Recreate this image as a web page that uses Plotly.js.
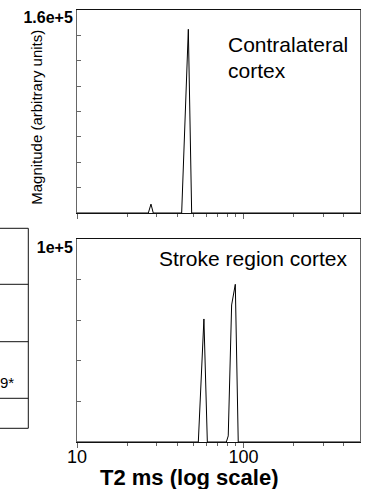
<!DOCTYPE html>
<html>
<head>
<meta charset="utf-8">
<script src="https://cdn.plot.ly/plotly-3.0.1.min.js"></script>
<style>html,body{margin:0;padding:0;background:#fff;}#chart{width:368px;height:489px;}</style>
</head>
<body>
<div id="chart"></div>
<script>
// ---- data ----
const contraT2 = [10, 26.8, 27.8, 28.7, 42.5, 46.6, 48.8, 500];
const contraMag = [0, 0, 7000, 0, 0, 144800, 0, 0];
const strokeT2 = [10, 53.5, 57.8, 60.6, 78.8, 80.9, 84.8, 89.2, 92.9, 500];
const strokeMag = [0, 0, 60700, 0, 0, 3000, 67600, 77800, 0, 0];
const xTickVals = [10, 100];
const xTickText = ['10', '100'];
const xMinorVals = [20, 30, 40, 50, 60, 70, 80, 90, 200, 300, 400];
const topYTickVals = [0, 20000, 40000, 60000, 80000, 100000, 120000, 140000, 160000];
const topYTickText = ['', '', '', '', '', '', '', '', '1.6e+5'];
const botYTickVals = [0, 20000, 40000, 60000, 80000, 100000];
const botYTickText = ['', '', '', '', '', '1e+5'];
const panelLabels = ['Contralateral', 'cortex', 'Stroke region cortex'];
const xTitle = 'T2 ms (log scale)';
const yTitle = 'Magnitude (arbitrary units)';

// ---- layout helpers ----
const W = 368, H = 489, L = 77, R = 8, T = 10, B = 47;
const PW = W - L - R, PH = H - T - B;
const fx = px => (px - L) / PW;
const fy = py => (H - B - py) / PH;
const FONT = 'Liberation Sans, Arial, Helvetica, sans-serif';
const GRAY = '#666';

const xBase = {
  type: 'log', range: [1, Math.log10(500)], showgrid: false, zeroline: false,
  showline: true, mirror: true, linecolor: '#111', linewidth: 1,
  ticks: 'outside', ticklen: 5, tickcolor: GRAY, tickwidth: 1,
  tickvals: xTickVals,
  minor: { tickvals: xMinorVals, ticks: 'outside', ticklen: 3, tickcolor: GRAY, showgrid: false },
  tickfont: { family: FONT, size: 18, color: '#000' },
  ticklabelstandoff: -7
};
const yBase = {
  showgrid: false, zeroline: false, showline: true, mirror: true,
  linecolor: GRAY, linewidth: 1, ticks: 'inside', ticklen: 4, tickcolor: GRAY,
  tickfont: { family: FONT, size: 16, color: '#000', weight: 'bold' }
};

const traces = [
  { x: contraT2, y: contraMag, xaxis: 'x', yaxis: 'y', type: 'scatter', mode: 'lines',
    line: { color: '#000', width: 1 }, hoverinfo: 'skip' },
  { x: strokeT2, y: strokeMag, xaxis: 'x2', yaxis: 'y2', type: 'scatter', mode: 'lines',
    line: { color: '#000', width: 1 }, hoverinfo: 'skip' }
];

const tableYs = [228.3, 284.3, 341.7, 398.3, 428.3];
const shapes = tableYs.map(py => ({
  type: 'line', xref: 'paper', yref: 'paper', x0: fx(-5), x1: fx(28.3), y0: fy(py), y1: fy(py),
  line: { color: '#111', width: 1 }
}));
shapes.push({ type: 'line', xref: 'paper', yref: 'paper', x0: fx(28.3), x1: fx(28.3),
  y0: fy(tableYs[0]), y1: fy(tableYs[tableYs.length - 1]), line: { color: '#111', width: 1 } });

const ann = (text, px, py, opts) => Object.assign({
  text, xref: 'paper', yref: 'paper', x: fx(px), y: fy(py), showarrow: false,
  xanchor: 'left', yanchor: 'middle', borderpad: 0, font: { family: FONT, size: 21, color: '#000' }
}, opts || {});

const layout = {
  width: W, height: H, margin: { l: L, r: R, t: T, b: B, pad: 0 },
  paper_bgcolor: '#fff', plot_bgcolor: '#fff', showlegend: false,
  xaxis: Object.assign({}, xBase, { anchor: 'y', ticktext: ['', ''] }),
  yaxis: Object.assign({}, yBase, { domain: [fy(213), 1], range: [0, 160000],
    tickvals: topYTickVals, ticktext: topYTickText, ticklabelshift: 7 }),
  xaxis2: Object.assign({}, xBase, { anchor: 'y2', ticktext: xTickText }),
  yaxis2: Object.assign({}, yBase, { domain: [0, fy(239.3)], range: [0, 100000],
    tickvals: botYTickVals, ticktext: botYTickText, ticklabelshift: 8 }),
  shapes,
  annotations: [
    ann(panelLabels[0], 227, 45),
    ann(panelLabels[1], 227, 70.5),
    ann(panelLabels[2], 158, 258),
    ann(xTitle, 189.5, 478, { xanchor: 'center', font: { family: FONT, size: 22, color: '#000', weight: 'bold' } }),
    ann(yTitle, 36.3, 117.5, { xanchor: 'center', textangle: -90, font: { family: FONT, size: 15, color: '#000' } }),
    ann('9*', 15, 382, { xanchor: 'right', font: { family: FONT, size: 15, color: '#000' } })
  ]
};

Plotly.newPlot('chart', traces, layout, { staticPlot: true, displayModeBar: false });
</script>
</body>
</html>
